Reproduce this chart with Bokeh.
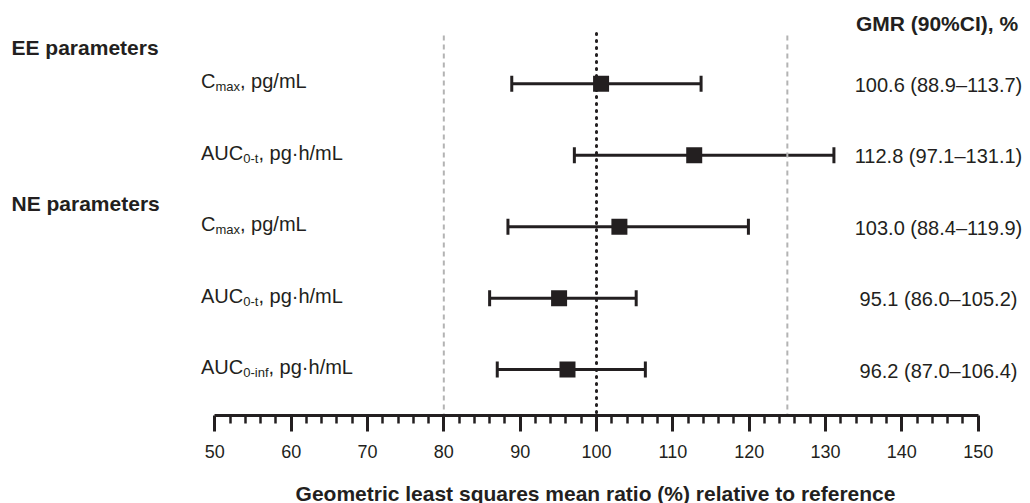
from bokeh.plotting import figure
from bokeh.layouts import column
from bokeh.models import Range1d, LinearAxis, FixedTicker, ColumnDataSource, Whisker, TeeHead
from bokeh.core.properties import value
from bokeh.embed import file_html
from bokeh.resources import INLINE

# ---------------- data ----------------
groups = ["EE parameters", "NE parameters"]
param_main = ["C", "AUC", "C", "AUC", "AUC"]
param_sub = ["max", "0-t", "max", "0-t", "0-inf"]
param_unit = ["pg/mL", "pg\u00b7h/mL", "pg/mL", "pg\u00b7h/mL", "pg\u00b7h/mL"]
gmr = [100.6, 112.8, 103.0, 95.1, 96.2]
ci_low = [88.9, 97.1, 88.4, 86.0, 87.0]
ci_high = [113.7, 131.1, 119.9, 105.2, 106.4]
x_ticks = [50, 60, 70, 80, 90, 100, 110, 120, 130, 140, 150]
be_limits = [80, 125]
unity = [100]
col_header = "GMR (90%CI), %"
x_title = "Geometric least squares mean ratio (%) relative to reference"

rows = list(range(len(gmr)))
gmr_text = [f"{g:.1f} ({l:.1f}\u2013{h:.1f})" for g, l, h in zip(gmr, ci_low, ci_high)]

# ---------------- layout (page pixel coordinates) ----------------
W = 1030
H_MAIN = 480
H_TITLE = 23
FRAME_H = 415
PX_PER_UNIT = 7.634
X50_PX = 214.3
x_start = 50 - X50_PX / PX_PER_UNIT
x_end = x_start + W / PX_PER_UNIT
ROW0_PX = 83.3
ROW_STEP = 71.45
y_top = -ROW0_PX / ROW_STEP
y_bot = (FRAME_H - ROW0_PX) / ROW_STEP

def xpx(px):
    return x_start + px / PX_PER_UNIT

def ypx(px):
    return (px - ROW0_PX) / ROW_STEP

INK = "#231f20"
FONT = value("Liberation Sans")
MAIN_FS = 20
SUB_FS = 13
EM = {"C": .722, "A": .667, "U": .722, "m": .833, "a": .556, "x": .5,
      "0": .556, "-": .333, "t": .278, "i": .222, "n": .556, "f": .278}

def width(s, fs):
    return sum(EM.get(c, .556) for c in s) * fs

xr = Range1d(x_start, x_end)
p = figure(width=W, height=H_MAIN, x_range=xr,
           y_range=Range1d(y_bot, y_top), x_axis_type=None, y_axis_type=None,
           min_border_left=0, min_border_right=0, min_border_top=0,
           min_border_bottom=H_MAIN - FRAME_H,
           toolbar_location=None, output_backend="svg", outline_line_color=None,
           background_fill_color="white", border_fill_color="white")

minor = [v for v in range(x_ticks[0], x_ticks[-1] + 1, 2) if v % 10]
ax = LinearAxis(ticker=FixedTicker(ticks=x_ticks, minor_ticks=minor), bounds=(x_ticks[0], x_ticks[-1]))
ax.axis_line_width = 3
ax.axis_line_color = INK
ax.major_tick_in = 0
ax.major_tick_out = 16
ax.major_tick_line_width = 3
ax.major_tick_line_color = INK
ax.minor_tick_in = 0
ax.minor_tick_out = 8
ax.minor_tick_line_width = 2.5
ax.minor_tick_line_color = INK
ax.major_label_text_font = "Liberation Sans"
ax.major_label_text_font_size = "18px"
ax.major_label_text_color = INK
ax.major_label_standoff = 13
p.add_layout(ax, "below")

p.segment(x0=be_limits, x1=be_limits, y0=[ypx(35)] * len(be_limits), y1=[y_bot] * len(be_limits),
          line_color="#b3b3b3", line_width=2, line_dash="5 4")
p.segment(x0=unity, x1=unity, y0=[ypx(33)], y1=[y_bot],
          line_color=INK, line_width=3, line_dash="1 6", line_cap="round")

src = ColumnDataSource(dict(y=rows, lo=ci_low, hi=ci_high, g=gmr))
wh = Whisker(source=src, base="y", lower="lo", upper="hi", dimension="width",
             line_color=INK, line_width=3,
             upper_head=TeeHead(size=16, line_width=3, line_color=INK),
             lower_head=TeeHead(size=16, line_width=3, line_color=INK))
p.add_layout(wh)
p.scatter(x="g", y="y", source=src, marker="square", size=16, fill_color=INK, line_color=None)

# row labels: main + subscript + unit
lab_x = xpx(200.5)
w_main = [width(s, MAIN_FS) for s in param_main]
w_sub = [width(s, SUB_FS) for s in param_sub]
p.text(x=[lab_x] * len(rows), y=rows, text=param_main, y_offset=-2.5,
       text_font=FONT, text_font_size=f"{MAIN_FS}px", text_baseline="middle", text_color=INK)
p.text(x=[lab_x] * len(rows), y=rows, text=param_sub, x_offset=w_main, y_offset=3,
       text_font=FONT, text_font_size=f"{SUB_FS}px", text_baseline="middle", text_color=INK)
p.text(x=[lab_x] * len(rows), y=rows, text=[", " + u for u in param_unit],
       x_offset=[a + b for a, b in zip(w_main, w_sub)], y_offset=-2.5,
       text_font=FONT, text_font_size=f"{MAIN_FS}px", text_baseline="middle", text_color=INK)

# right column
col_x = xpx(938)
p.text(x=[col_x] * len(rows), y=rows, text=gmr_text, y_offset=1, text_align="center",
       text_font=FONT, text_font_size="20px", text_baseline="middle", text_color=INK)
p.text(x=[xpx(936.5)], y=[ypx(22.5)], text=[col_header], text_align="center",
       text_font=FONT, text_font_size="21px", text_font_style="bold",
       text_baseline="middle", text_color=INK)

# group headers
hdr_y = [ypx(46.8), ypx(203)]
p.text(x=[xpx(11)] * len(groups), y=hdr_y, text=groups,
       text_font=FONT, text_font_size="21px", text_font_style="bold",
       text_baseline="middle", text_color=INK)

# x-axis title strip
pt = figure(width=W, height=H_TITLE, x_range=xr, y_range=Range1d(H_TITLE, 0),
            x_axis_type=None, y_axis_type=None,
            min_border_left=0, min_border_right=0, min_border_top=0, min_border_bottom=0,
            toolbar_location=None, output_backend="svg", outline_line_color=None,
            background_fill_color="white", border_fill_color="white")
pt.text(x=[xpx(595)], y=[12.5], text=[x_title], text_align="center", text_baseline="middle",
        text_font=FONT, text_font_size="21px", text_font_style="bold", text_color=INK)

layout = column(p, pt, spacing=0)
open("out.html", "w").write(file_html(layout, INLINE))
